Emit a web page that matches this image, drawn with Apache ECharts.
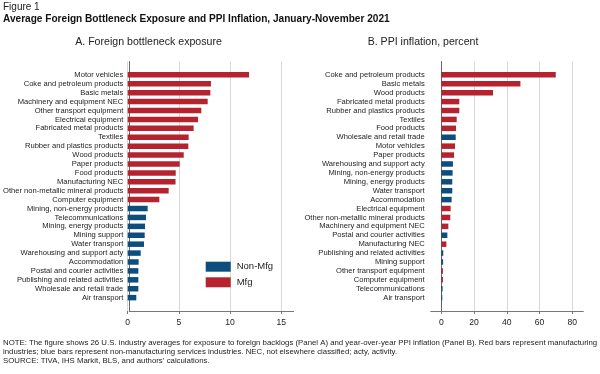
<!DOCTYPE html>
<html>
<head>
<meta charset="utf-8">
<script src="https://cdn.jsdelivr.net/npm/echarts@6/dist/echarts.min.js"></script>
<style>
html,body{margin:0;padding:0;background:#fff;}
#chart{width:600px;height:374px;}
</style>
</head>
<body>
<div id="chart"></div>
<script>
// ---- Data ----
const categoriesA = [
  'Motor vehicles','Coke and petroleum products','Basic metals','Machinery and equipment NEC',
  'Other transport equipment','Electrical equipment','Fabricated metal products','Textiles',
  'Rubber and plastics products','Wood products','Paper products','Food products','Manufacturing NEC',
  'Other non-metallic mineral products','Computer equipment','Mining, non-energy products',
  'Telecommunications','Mining, energy products','Mining support','Water transport',
  'Warehousing and support acty','Accommodation','Postal and courier activities',
  'Publishing and related activities','Wholesale and retail trade','Air transport'
];
const exposureA = [11.85,8.13,8.07,7.81,7.19,6.87,6.44,5.95,5.92,5.47,5.08,4.69,4.67,4.0,3.09,
  1.95,1.79,1.69,1.66,1.59,1.27,1.07,1.04,1.04,1.04,0.84];

const categoriesB = [
  'Coke and petroleum products','Basic metals','Wood products','Fabricated metal products',
  'Rubber and plastics products','Textiles','Food products','Wholesale and retail trade',
  'Motor vehicles','Paper products','Warehousing and support acty','Mining, non-energy products',
  'Mining, energy products','Water transport','Accommodation','Electrical equipment',
  'Other non-metallic mineral products','Machinery and equipment NEC','Postal and courier activities',
  'Manufacturing NEC','Publishing and related activities','Mining support','Other transport equipment',
  'Computer equipment','Telecommunications','Air transport'
];
const ppiB = [69.9,48.3,31.6,11.0,11.0,9.4,9.0,8.8,8.4,7.8,7.1,6.9,6.7,6.7,6.3,5.7,5.5,4.3,3.7,3.1,
  1.2,1.1,1.0,1.0,0.8,0.6];

const mfgIndustries = [
  'Motor vehicles','Coke and petroleum products','Basic metals','Machinery and equipment NEC',
  'Other transport equipment','Electrical equipment','Fabricated metal products','Textiles',
  'Rubber and plastics products','Wood products','Paper products','Food products','Manufacturing NEC',
  'Other non-metallic mineral products','Computer equipment'
];
const seriesNames = ['Non-Mfg','Mfg'];
const ticksA = {min:0, max:15, interval:5};
const ticksB = {min:0, max:80, interval:20};

// ---- Styles ----
const RED = '#b5232f', BLUE = '#0e4e7f';
const FONT = '"Liberation Sans", Arial, sans-serif';
const GRID_TOP = 61.5, GRID_BOTTOM = 63;

function pad(arr, fill){ return [fill[0]].concat(arr, [fill[1]]); }
function split(cats, vals, wantMfg){
  return pad(cats.map((c,i)=> (mfgIndustries.includes(c) === wantMfg) ? vals[i] : '-'), ['-','-']);
}

const catsAP = pad(categoriesA, [' ','  ']);
const catsBP = pad(categoriesB, [' ','  ']);

const chart = echarts.init(document.getElementById('chart'), null, {renderer:'canvas'});

const yLabelStyle = {fontSize:7.6, color:'#222', fontFamily:FONT, margin:6, interval:0};
const axisLineGray = {lineStyle:{color:'#777', width:1}};

function outerY(gi, cats){
  return {type:'category', gridIndex:gi, inverse:true, data:cats,
    axisLine:{show:true, lineStyle:{color:'#666', width:1}}, axisTick:{show:false},
    axisLabel:Object.assign({show:true}, yLabelStyle), splitLine:{show:false}};
}
function innerY(gi, cats){
  return {type:'category', gridIndex:gi, inverse:true, data:cats,
    axisLine:{show:false}, axisTick:{show:false}, axisLabel:{show:false}, splitLine:{show:false}};
}
function outerX(gi, min, max){
  return {type:'value', gridIndex:gi, min:min, max:max,
    axisLine:Object.assign({show:true}, axisLineGray), axisTick:{show:false},
    axisLabel:{show:false}, splitLine:{show:false}};
}
function innerX(gi, t){
  return {type:'value', gridIndex:gi, min:t.min, max:t.max, interval:t.interval,
    axisLine:{show:false},
    axisTick:{show:true, inside:false, length:3, lineStyle:{color:'#777'}},
    axisLabel:{show:true, fontSize:8.6, color:'#222', fontFamily:FONT, margin:7},
    splitLine:{show:true, lineStyle:{color:'#d8d8d8', width:1}}};
}
function bar(name, xi, yi, data, color){
  return {type:'bar', name:name, xAxisIndex:xi, yAxisIndex:yi, data:data, stack:'s'+xi,
    barWidth:5.5, itemStyle:{color:color}, emphasis:{disabled:true}, silent:true, animation:false};
}

const option = {
  animation:false,
  textStyle:{fontFamily:FONT},
  grid:[
    {left:127.7, right:600-293.6, top:GRID_TOP, bottom:GRID_BOTTOM},   // A outer
    {left:127.7, width:153.6, top:GRID_TOP, bottom:GRID_BOTTOM},        // A inner
    {left:430.7, right:600-583.3, top:GRID_TOP, bottom:GRID_BOTTOM},   // B outer
    {left:441.3, width:131, top:GRID_TOP, bottom:GRID_BOTTOM}           // B inner
  ],
  xAxis:[ outerX(0, 0, 16.2), innerX(1, ticksA), outerX(2, -6.5, 86.7), innerX(3, ticksB) ],
  yAxis:[ outerY(0, catsAP), innerY(1, catsAP), outerY(2, catsBP), innerY(3, catsBP) ],
  legend:{
    data:seriesNames, orient:'vertical', left:205.7, top:261.7,
    itemWidth:25, itemHeight:10, itemGap:5.6, icon:'rect', selectedMode:false,
    textStyle:{fontSize:9.5, color:'#222', fontFamily:FONT, padding:[0,0,0,1]}, padding:0
  },
  series:[
    bar(seriesNames[0], 1, 1, split(categoriesA, exposureA, false), BLUE),
    bar(seriesNames[1], 1, 1, split(categoriesA, exposureA, true), RED),
    bar(seriesNames[0], 3, 3, split(categoriesB, ppiB, false), BLUE),
    bar(seriesNames[1], 3, 3, split(categoriesB, ppiB, true), RED)
  ],
  graphic:[
    {type:'text', left:3, top:2, style:{text:'Figure 1', font:'10px '+FONT, fill:'#222'}},
    {type:'text', left:3, top:14.2, style:{text:'Average Foreign Bottleneck Exposure and PPI Inflation, January-November 2021', font:'bold 10.1px '+FONT, fill:'#111'}},
    {type:'text', x:148.5, y:42.5, style:{text:'A. Foreign bottleneck exposure', font:'10.6px '+FONT, fill:'#222', align:'center', verticalAlign:'middle'}},
    {type:'text', x:423, y:42.5, style:{text:'B. PPI inflation, percent', font:'10.6px '+FONT, fill:'#222', align:'center', verticalAlign:'middle'}},
    {type:'text', x:3, y:343, style:{text:'NOTE: The figure shows 26 U.S. industry averages for exposure to foreign backlogs (Panel A) and year-over-year PPI inflation (Panel B). Red bars represent manufacturing', font:'7.8px '+FONT, fill:'#222', verticalAlign:'middle'}},
    {type:'text', x:3, y:352.3, style:{text:'industries; blue bars represent non-manufacturing services industries. NEC, not elsewhere classified; acty, activity.', font:'7.8px '+FONT, fill:'#222', verticalAlign:'middle'}},
    {type:'text', x:3, y:361.3, style:{text:'SOURCE: TIVA, IHS Markit, BLS, and authors\u2019 calculations.', font:'7.8px '+FONT, fill:'#222', verticalAlign:'middle'}}
  ]
};
chart.setOption(option);
</script>
</body>
</html>
